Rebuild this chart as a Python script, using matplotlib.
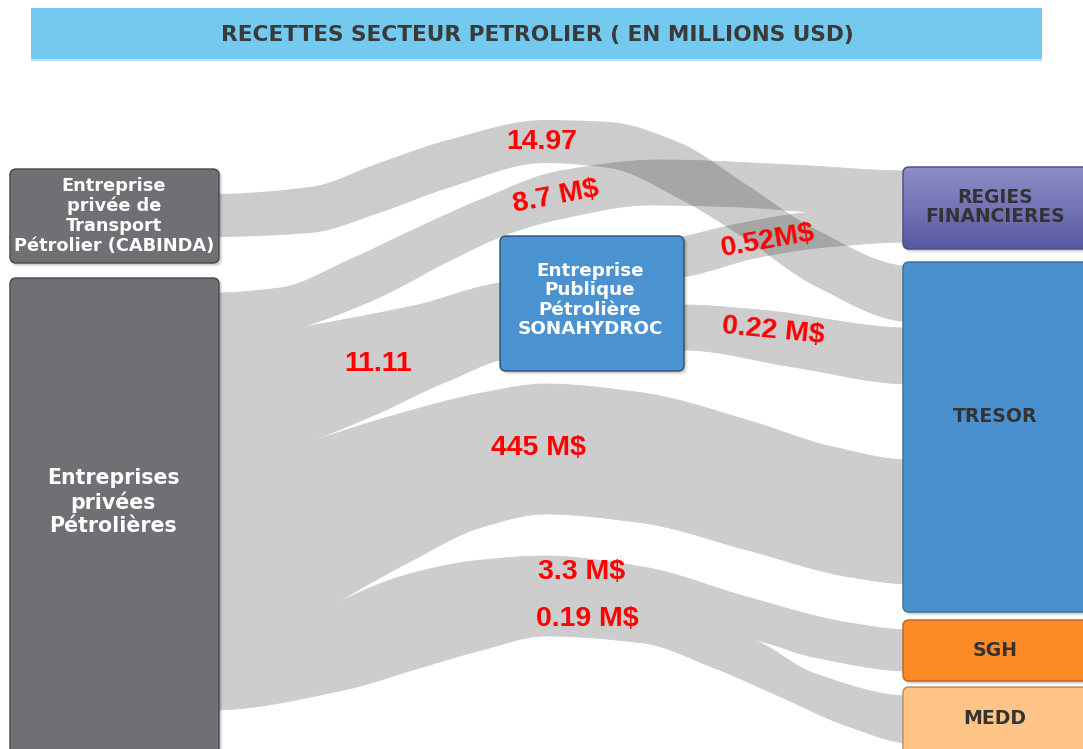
import numpy as np
import matplotlib.pyplot as plt
from matplotlib.patches import FancyBboxPatch, Polygon, Rectangle

W, H = 1083, 749

# ---- data ---------------------------------------------------------------
title = "RECETTES SECTEUR PETROLIER ( EN MILLIONS USD)"

node_ids = ["cabinda", "privees", "sonahydroc", "regies", "tresor", "sgh", "medd"]
node_labels = [
    "Entreprise\nprivée de\nTransport\nPétrolier (CABINDA)",
    "Entreprises\nprivées\nPétrolières",
    "Entreprise\nPublique\nPétrolière\nSONAHYDROC",
    "REGIES\nFINANCIERES",
    "TRESOR",
    "SGH",
    "MEDD",
]

flow_sources = ["cabinda", "privees", "sonahydroc", "sonahydroc",
                "privees", "privees", "privees", "privees"]
flow_targets = ["tresor", "regies", "regies", "tresor",
                "sonahydroc", "tresor", "sgh", "medd"]
flow_values = ["14.97", "8.7 M$", "0.52M$", "0.22 M$",
               "11.11", "445 M$", "3.3 M$", "0.19 M$"]

# ---- layout (pixel space, y down) ---------------------------------------
node_box = {  # x0, y0, x1, y1
    "cabinda": (10, 169, 219, 263),
    "privees": (10, 278, 219, 765),
    "sonahydroc": (500, 236, 684, 371),
    "regies": (903, 167, 1095, 249),
    "tresor": (903, 262, 1095, 612),
    "sgh": (903, 620, 1095, 681),
    "medd": (903, 687, 1095, 765),
}
node_face = {
    "cabinda": "#707074", "privees": "#707074", "sonahydroc": "#4a92d0",
    "regies": ("#8e8ec9", "#5858a2"), "tresor": "#4b90ce",
    "sgh": "#ff8b28", "medd": "#ffc488",
}
node_edge = {
    "cabinda": "#48484c", "privees": "#48484c", "sonahydroc": "#2f4f6e",
    "regies": "#4a4a80", "tresor": "#3d6c98", "sgh": "#b86418", "medd": "#b68a5a",
}
node_text_xy = {
    "cabinda": (114, 216), "privees": (113, 502), "sonahydroc": (590, 300),
    "regies": (995, 207), "tresor": (995, 417), "sgh": (995, 651), "medd": (995, 718),
}
node_text_style = {
    "cabinda": dict(color="white", fontsize=12.8, linespacing=1.12),
    "privees": dict(color="white", fontsize=14.8, linespacing=1.2),
    "sonahydroc": dict(color="white", fontsize=13.2, linespacing=1.1),
    "regies": dict(color="#333333", fontsize=13.4, linespacing=1.05),
    "tresor": dict(color="#333333", fontsize=13.6),
    "sgh": dict(color="#333333", fontsize=13.6),
    "medd": dict(color="#333333", fontsize=13.6),
}

# band edges: waypoints of the top and bottom outline; "tip" means the edge
# leaves its neighbour at the second point (white wedge between bands)
band_top = [
    ([(212, 194), (310, 187), (379, 163), (448, 140), (545, 120), (609, 122),
      (678, 142), (747, 185), (815, 229), (910, 266)], False),
    ([(212, 293), (280, 288), (347, 261), (413, 230), (480, 200), (560, 171),
      (660, 160), (793, 165), (910, 171)], False),
    ([(660, 243), (683, 237), (743, 223), (813, 212), (910, 207)], False),
    ([(660, 305), (683, 305), (760, 310), (910, 328)], False),
    ([(212, 327), (302, 327), (413, 306), (515, 282)], True),
    ([(212, 447), (296, 447), (413, 410), (482, 393), (545, 384), (643, 393),
      (747, 420), (833, 447), (910, 460)], True),
    ([(212, 607), (330, 607), (413, 573), (482, 560), (545, 556), (643, 567),
      (747, 597), (850, 623), (910, 630)], True),
    ([(212, 652), (480, 603), (752, 640), (813, 673), (910, 696)], False),
]
band_bottom = [
    ([(212, 237), (310, 233), (379, 213), (448, 188), (545, 163), (609, 168),
      (678, 198), (747, 240), (815, 286), (910, 322)], False),
    ([(212, 327), (302, 327), (380, 297), (447, 262), (513, 232), (560, 219),
      (650, 205), (740, 207), (813, 212), (910, 216)], True),
    ([(660, 280), (683, 277), (760, 257), (827, 247), (910, 242)], False),
    ([(660, 350), (683, 350), (793, 367), (910, 384)], False),
    ([(212, 447), (296, 447), (379, 413), (448, 381), (515, 358)], True),
    ([(212, 607), (330, 607), (413, 560), (482, 527), (545, 514), (643, 523),
      (747, 550), (850, 577), (910, 584)], True),
    ([(212, 662), (480, 624), (752, 640), (813, 657), (910, 671)], False),
    ([(212, 710), (344, 690), (413, 670), (482, 650), (545, 636), (643, 643),
      (712, 667), (781, 697), (850, 727), (910, 743)], False),
]
band_overlay = [True, False, False, False, False, False, False, False]

label_xy = [(542, 142), (556, 197), (768, 241), (773, 331),
            (378, 364), (538, 448), (582, 572), (587, 619)]
label_rot = [0, 11, 10, -5.5, 0, 0, 0, 0]

BAND = "#cdcdcd"


def smooth_edge(pts, tip=False, n=40):
    """Monotone cubic (Fritsch-Carlson) through the waypoints."""
    pts = np.asarray(pts, float)
    head = None
    if tip:
        head = pts[:1]
        pts = pts[1:]
    x, y = pts[:, 0], pts[:, 1]
    h = np.diff(x)
    s = np.diff(y) / h
    d = np.zeros(len(x))
    for k in range(1, len(x) - 1):
        if s[k - 1] * s[k] > 0:
            w1 = 2 * h[k] + h[k - 1]
            w2 = h[k] + 2 * h[k - 1]
            d[k] = (w1 + w2) / (w1 / s[k - 1] + w2 / s[k])
    if tip and len(s) > 1:
        d0 = ((2 * h[0] + h[1]) * s[0] - h[0] * s[1]) / (h[0] + h[1])
        d[0] = d0 if d0 * s[0] > 0 else s[0]
    elif tip:
        d[0] = s[0]
    xs, ys = [], []
    t = np.linspace(0, 1, n)
    for k in range(len(h)):
        h00 = 2 * t**3 - 3 * t**2 + 1
        h10 = t**3 - 2 * t**2 + t
        h01 = -2 * t**3 + 3 * t**2
        h11 = t**3 - t**2
        xs.append(x[k] + t * h[k])
        ys.append(h00 * y[k] + h10 * h[k] * d[k] + h01 * y[k + 1] + h11 * h[k] * d[k + 1])
    xs, ys = np.concatenate(xs), np.concatenate(ys)
    if head is not None:
        xs = np.concatenate([head[:, 0], xs])
        ys = np.concatenate([head[:, 1], ys])
    return xs, ys


def draw_box(ax, name, z=5):
    x0, y0, x1, y1 = node_box[name]
    w, h = x1 - x0, y1 - y0
    for i, a in enumerate([0.10, 0.06, 0.035]):
        ax.add_patch(FancyBboxPatch((x0 + 2 - i, y0 + 2 - i), w + 2 * i, h + 2 * i,
                                    boxstyle=f"round,pad=0,rounding_size={6 + i}",
                                    fc="black", ec="none", alpha=a, zorder=z - 0.5))
    face = node_face[name]
    gradient = not isinstance(face, str)
    box = FancyBboxPatch((x0, y0), w, h, boxstyle="round,pad=0,rounding_size=6",
                         fc="none" if gradient else face,
                         ec=node_edge[name], lw=1.0, zorder=z + 0.2 if gradient else z)
    ax.add_patch(box)
    if gradient:
        c0 = np.array(plt.matplotlib.colors.to_rgb(face[0]))
        c1 = np.array(plt.matplotlib.colors.to_rgb(face[1]))
        f = np.linspace(0, 1, 64)[:, None, None]
        grad = c0 * (1 - f) + c1 * f
        im = ax.imshow(grad, extent=(x0, x1, y1, y0), origin="upper",
                       aspect="auto", zorder=z, interpolation="bilinear")
        im.set_clip_path(box)


fig = plt.figure(figsize=(W / 100, H / 100), dpi=100)
ax = fig.add_axes([0, 0, 1, 1])
ax.set_axis_off()

# title bar
ax.add_patch(Rectangle((31, 9), 1011, 52, fc="#b8e3f5", ec="none", zorder=1))
ax.add_patch(Rectangle((31, 8), 1011, 51, fc="#74c9ee", ec="none", zorder=2))
ax.text(537, 35, title, ha="center", va="center", fontsize=15.6,
        fontweight="bold", color="#3a3a3a", family="DejaVu Sans", zorder=3)

# bands
for i in range(len(flow_values)):
    tx, ty = smooth_edge(*band_top[i])
    bx, by = smooth_edge(*band_bottom[i])
    poly = np.column_stack([np.concatenate([tx, bx[::-1]]),
                            np.concatenate([ty, by[::-1]])])
    if band_overlay[i]:
        ax.add_patch(Polygon(poly, closed=True, fc="#373737", ec="none",
                             alpha=0.255, zorder=3))
    else:
        ax.add_patch(Polygon(poly, closed=True, fc=BAND, ec=BAND, lw=0.6,
                             zorder=2))

# nodes
for name, text in zip(node_ids, node_labels):
    draw_box(ax, name)
    tx, ty = node_text_xy[name]
    ax.text(tx, ty, text, ha="center", va="center", fontweight="bold",
            family="DejaVu Sans", zorder=8, **node_text_style[name])

# flow value labels
for txt, (lx, ly), rot in zip(flow_values, label_xy, label_rot):
    ax.text(lx, ly, txt, ha="center", va="center", rotation=rot,
            rotation_mode="anchor", fontsize=20.5, fontweight="bold",
            color="#ff0000", family=["Liberation Sans", "DejaVu Sans"], zorder=9)

ax.set_xlim(0, W)
ax.set_ylim(H, 0)
fig.savefig("out.png", dpi=100)
